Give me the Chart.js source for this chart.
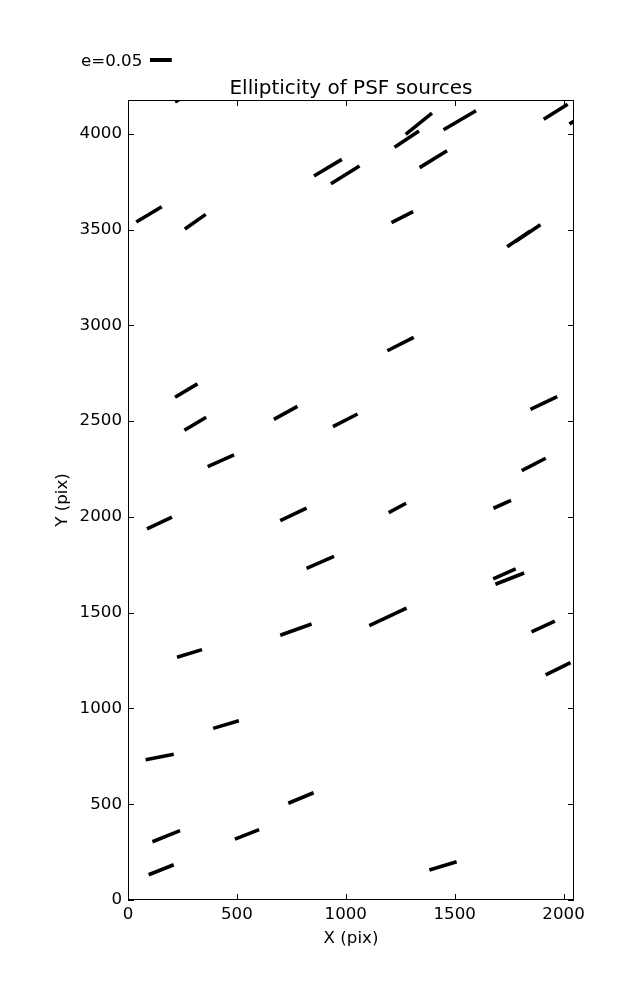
<!DOCTYPE html>
<html>
<head>
<meta charset="utf-8">
<script src="https://cdn.jsdelivr.net/npm/chart.js@4.4.1/dist/chart.umd.min.js"></script>
<style>
html,body{margin:0;padding:0;background:#fff;}
canvas{display:block;}
</style>
</head>
<body>
<canvas id="c" width="637" height="1000"></canvas>
<script>
// Whisker endpoints (data units, pixels on CCD)
const x1 = [216, 38, 261, 854, 932, 1275, 1224, 1449, 1909, 2027, 1339, 1210, 1741, 1779, 1191, 216, 259, 670, 941, 366, 87, 699, 1197, 1678, 1848, 1808, 820, 699, 225, 1108, 1677, 1687, 1853, 1918, 391, 81, 736, 112, 491, 95, 1384];
const y1 = [4166, 3539, 3503, 3779, 3739, 3997, 3929, 4021, 4075, 4051, 3823, 3536, 3410, 3437, 2867, 2624, 2452, 2509, 2471, 2262, 1937, 1980, 2022, 2045, 2561, 2241, 1731, 1382, 1267, 1432, 1676, 1648, 1399, 1175, 896, 732, 505, 304, 318, 132, 157];
const x2 = [331, 155, 357, 982, 1063, 1396, 1336, 1598, 2019, 2078, 1465, 1309, 1848, 1894, 1312, 319, 359, 778, 1054, 487, 202, 820, 1277, 1759, 1971, 1918, 946, 843, 340, 1279, 1780, 1819, 1960, 2032, 509, 210, 852, 239, 602, 210, 1509];
const y2 = [4239, 3619, 3579, 3866, 3831, 4107, 4014, 4120, 4154, 4087, 3911, 3593, 3492, 3525, 2937, 2694, 2520, 2577, 2537, 2324, 1999, 2045, 2071, 2086, 2627, 2306, 1794, 1441, 1307, 1523, 1728, 1707, 1456, 1239, 936, 761, 560, 362, 367, 184, 200];

const xTicks = [0, 500, 1000, 1500, 2000];
const yTicks = [0, 500, 1000, 1500, 2000, 2500, 3000, 3500, 4000];
const xRange = [0, 2048];
const yRange = [0, 4176];
const chartTitle = 'Ellipticity of PSF sources';
const xLabel = 'X (pix)';
const yLabel = 'Y (pix)';
const keyLabel = 'e=0.05';
const keyLength = 100; // x data units for e=0.05

const FONT = "'DejaVu Sans', sans-serif";
const FS = 16.67;

const datasets = x1.map((v, i) => ({
  data: [{x: x1[i], y: y1[i]}, {x: x2[i], y: y2[i]}],
  borderColor: '#000',
  borderWidth: 3.6,
  borderCapStyle: 'butt',
  pointRadius: 0,
  fill: false,
  clip: 0,
  tension: 0
}));

const framePlugin = {
  id: 'frame',
  afterDraw(chart) {
    const {ctx, chartArea: a, scales} = chart;
    const xs = scales.x, ys = scales.y;
    ctx.save();
    ctx.strokeStyle = '#000';
    ctx.lineWidth = 1;
    ctx.strokeRect(a.left + 0.5, a.top + 0.5, a.right - a.left - 1, a.bottom - a.top - 1);
    const tl = 6;
    ctx.beginPath();
    xTicks.forEach(t => {
      const px = Math.round(xs.getPixelForValue(t)) + 0.5;
      ctx.moveTo(px, a.bottom); ctx.lineTo(px, a.bottom - tl);
      ctx.moveTo(px, a.top); ctx.lineTo(px, a.top + tl);
    });
    yTicks.forEach(t => {
      const py = Math.round(ys.getPixelForValue(t)) + 0.5;
      ctx.moveTo(a.left, py); ctx.lineTo(a.left + tl, py);
      ctx.moveTo(a.right, py); ctx.lineTo(a.right - tl, py);
    });
    ctx.stroke();
    // title
    ctx.fillStyle = '#000';
    ctx.font = '20px ' + FONT;
    ctx.textAlign = 'center';
    ctx.textBaseline = 'alphabetic';
    ctx.fillText(chartTitle, (a.left + a.right) / 2, 94);
    // key
    ctx.font = FS + 'px ' + FONT;
    ctx.textAlign = 'left';
    ctx.fillText(keyLabel, 81, 66);
    const klen = xs.getPixelForValue(keyLength) - xs.getPixelForValue(0);
    ctx.lineWidth = 4;
    ctx.beginPath();
    ctx.moveTo(150, 60); ctx.lineTo(150 + klen, 60);
    ctx.stroke();
    ctx.restore();
  }
};

new Chart(document.getElementById('c'), {
  type: 'line',
  data: {datasets},
  plugins: [framePlugin],
  options: {
    responsive: false,
    devicePixelRatio: 1,
    animation: false,
    events: [],
    layout: {padding: {left: 0, top: 100, right: 63, bottom: 40}},
    plugins: {legend: {display: false}, tooltip: {enabled: false}, title: {display: false}},
    scales: {
      x: {
        type: 'linear',
        min: xRange[0], max: xRange[1],
        afterBuildTicks: s => { s.ticks = xTicks.map(v => ({value: v})); },
        afterFit: s => { s.height = 60; },
        grid: {display: false, drawTicks: false},
        border: {display: false},
        ticks: {color: '#000', font: {family: FONT, size: FS}, padding: 5, maxRotation: 0, autoSkip: false, callback: v => String(v)},
        title: {display: true, text: xLabel, color: '#000', font: {family: FONT, size: FS}, padding: {top: 0, bottom: 11}}
      },
      y: {
        type: 'linear',
        min: yRange[0], max: yRange[1],
        afterBuildTicks: s => { s.ticks = yTicks.map(v => ({value: v})); },
        afterFit: s => { s.width = 128; },
        grid: {display: false, drawTicks: false},
        border: {display: false},
        ticks: {color: '#000', font: {family: FONT, size: FS}, padding: 6, autoSkip: false, callback: v => String(v)},
        title: {display: true, text: yLabel, color: '#000', font: {family: FONT, size: FS}, padding: {top: 53, bottom: 0}}
      }
    }
  }
});
</script>
</body>
</html>
